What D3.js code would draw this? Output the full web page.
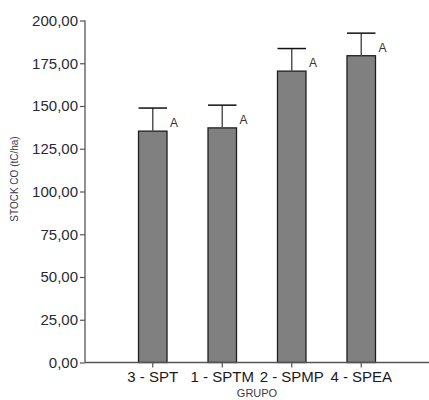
<!DOCTYPE html>
<html>
<head>
<meta charset="utf-8">
<script src="https://cdn.jsdelivr.net/npm/d3@7"></script>
<style>
  body { margin: 0; background: #fff; }
  svg { display: block; font-family: Arial, "Liberation Sans", sans-serif; }
</style>
</head>
<body>
<div id="chart"></div>
<script>
// data
const groups = ["3 - SPT", "1 - SPTM", "2 - SPMP", "4 - SPEA"];
const means = [135.3, 137.2, 170.4, 179.4];
const errTop = [148.8, 150.5, 183.6, 192.6];
const letters = ["A", "A", "A", "A"];
const yTicks = [0, 25, 50, 75, 100, 125, 150, 175, 200];

const width = 429;
const height = 400;
const margin = { top: 20.5, right: 0, bottom: 37.5, left: 85 };

const svg = d3
  .select("#chart")
  .append("svg")
  .attr("width", width)
  .attr("height", height);

const x = d3
  .scaleBand()
  .domain(groups)
  .range([margin.left, width - margin.right])
  .paddingInner(0.59)
  .paddingOuter(0.77)
  .align(0.5);

const y = d3
  .scaleLinear()
  .domain([0, 200])
  .range([height - margin.bottom, margin.top]);

const fmt = (v) => d3.format(".2f")(v).replace(".", ",");

// y axis
const yAxis = svg
  .append("g")
  .attr("transform", `translate(${margin.left},0)`)
  .call(d3.axisLeft(y).tickValues(yTicks).tickFormat(fmt).tickSize(5).tickPadding(2));
yAxis.select(".domain").attr("stroke", "#555").attr("stroke-width", 1.3).attr("d", `M0,${y(200)}V${y(0)}`);
yAxis.selectAll(".tick line").attr("stroke", "#555").attr("stroke-width", 1.2);
yAxis.selectAll("text").style("font-size", "15px").attr("fill", "#2a2a33");

// bars
svg
  .selectAll(".bar")
  .data(groups)
  .enter()
  .append("rect")
  .attr("class", "bar")
  .attr("x", (d) => x(d))
  .attr("y", (d, i) => y(means[i]))
  .attr("width", x.bandwidth())
  .attr("height", (d, i) => y(0) - y(means[i]))
  .attr("fill", "#808080")
  .attr("stroke", "#1e1e1e")
  .attr("stroke-width", 1.3);

// error bars
const cx = (d) => x(d) + x.bandwidth() / 2;
svg
  .selectAll(".err")
  .data(groups)
  .enter()
  .append("line")
  .attr("x1", cx)
  .attr("x2", cx)
  .attr("y1", (d, i) => y(means[i]))
  .attr("y2", (d, i) => y(errTop[i]))
  .attr("stroke", "#555")
  .attr("stroke-width", 1.5);

svg
  .selectAll(".cap")
  .data(groups)
  .enter()
  .append("line")
  .attr("x1", (d) => x(d))
  .attr("x2", (d) => x(d) + x.bandwidth())
  .attr("y1", (d, i) => y(errTop[i]))
  .attr("y2", (d, i) => y(errTop[i]))
  .attr("stroke", "#111")
  .attr("stroke-width", 1.5);

// letters
svg
  .selectAll(".letter")
  .data(groups)
  .enter()
  .append("text")
  .attr("x", (d) => x(d) + x.bandwidth() + 7)
  .attr("y", (d, i) => y(means[i]) - 4)
  .attr("text-anchor", "middle")
  .style("font-size", "12px")
  .attr("fill", "#333")
  .text((d, i) => letters[i]);

// x axis
const xAxis = svg
  .append("g")
  .attr("transform", `translate(0,${y(0)})`)
  .call(d3.axisBottom(x).tickSize(5).tickPadding(4));
xAxis.select(".domain").attr("stroke", "#555").attr("stroke-width", 1.3).attr("d", `M${margin.left},0H${width}`);
xAxis.selectAll(".tick line").attr("stroke", "#555").attr("stroke-width", 1.2);
xAxis.selectAll("text").style("font-size", "15px").attr("fill", "#1a1a22");

// axis titles
svg
  .append("text")
  .attr("transform", "rotate(-90)")
  .attr("x", -179)
  .attr("y", 18)
  .attr("text-anchor", "middle")
  .style("font-size", "10px")
  .attr("fill", "#3a3a4a")
  .text("STOCK CO (tC/ha)");

svg
  .append("text")
  .attr("x", 257)
  .attr("y", 397)
  .attr("text-anchor", "middle")
  .style("font-size", "11px")
  .attr("fill", "#3a3a4a")
  .text("GRUPO");
</script>
</body>
</html>
